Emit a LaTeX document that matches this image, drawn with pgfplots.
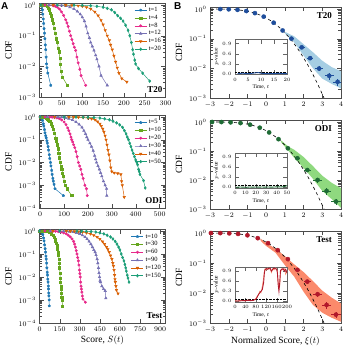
\documentclass[border=0pt]{standalone}
\usepackage{fontspec}
\setmainfont{Liberation Serif}
\setsansfont{Liberation Sans}
\usepackage{pgfplots}
\pgfplotsset{compat=1.18}

\definecolor{cA}{HTML}{1F78B4}
\definecolor{cB}{HTML}{66A61E}
\definecolor{cC}{HTML}{E7298A}
\definecolor{cD}{HTML}{7570B3}
\definecolor{cE}{HTML}{D95F02}
\definecolor{cF}{HTML}{1B9E77}
\definecolor{bBlue}{HTML}{1F4E9C}
\definecolor{bandBlue}{HTML}{A6CEE3}
\definecolor{bGreen}{HTML}{1E6B35}
\definecolor{bandGreen}{HTML}{8FD97F}
\definecolor{bRed}{HTML}{B2182B}
\definecolor{bandRed}{HTML}{FB8A6B}

\tikzset{paneltag/.style={font=\bfseries\fontsize{9}{9}\selectfont, inner sep=1pt}}

\pgfplotsset{
  panelcommon/.style={scale only axis,
    axis line style={black!70}, tick style={black!70},
    tick label style={font=\fontsize{7}{7}\selectfont},
    label style={font=\fontsize{9.5}{10}\selectfont},
    ylabel={CDF}},
  apanel/.style={panelcommon, width=126pt, ymax=1.15,
    legend style={at={(0.985,0.985)}, anchor=north east, draw=none, fill=none,
      font=\fontsize{6.5}{6.5}\selectfont, row sep=-2pt, inner sep=0.5pt},
    legend cell align=left},
  bpanel/.style={panelcommon, width=131pt, xmin=-3, xmax=4, xtick={-3,...,4},
    ymin=1e-3, ymax=1.15},
  insetaxis/.style={scale only axis, width=52pt, height=35pt, xmin=0,
    ymin=-0.02, ymax=1.02,
    axis line style={black!60}, tick style={black!60},
    ytick={0,0.3,0.6,0.9},
    yticklabel style={/pgf/number format/fixed, /pgf/number format/fixed zerofill, /pgf/number format/precision=1},
    tick label style={font=\fontsize{5}{5}\selectfont},
    label style={font=\fontsize{5.5}{5.5}\selectfont},
    xlabel={Time, $t$}, ylabel={$p$-value},
    xlabel style={yshift=3pt}, ylabel style={yshift=-3pt}},
}
\tikzset{
  sA/.style={cA, mark=pentagon*, line width=0.5pt, mark size=1.2pt},
  sB/.style={cB, mark=square*, line width=0.5pt, mark size=1.1pt},
  sC/.style={cC, mark=*, line width=0.5pt, mark size=1.2pt},
  sD/.style={cD, mark=triangle*, line width=0.5pt, mark size=1.4pt},
  sE/.style={cE, mark=triangle*, mark options={rotate=180}, line width=0.5pt, mark size=1.4pt},
  sF/.style={cF, mark=diamond*, line width=0.5pt, mark size=1.4pt}
}

\begin{document}
\begin{tikzpicture}
\useasboundingbox (0,0) rectangle (344pt,347pt);

% ---------------- A: T20
\begin{axis}[apanel, ymode=log, at={(39.5pt,250pt)}, anchor=south west, height=93.8pt,
  xmin=-3, xmax=300, xtick={0,50,...,300}, ymin=1e-3, ytick={1e-3,1e-2,1e-1,1},
  legend image code/.code={\draw[mark repeat=2,mark phase=2] plot coordinates {(0cm,0cm) (0.21cm,0cm) (0.42cm,0cm)};}]
\addplot[sA] coordinates {(0,1)(2,0.98)(3,0.9)(4,0.7)(5,0.5)(6,0.35)(7,0.25)(8,0.17)(9,0.12)(10,0.08)(11,0.05)(12,0.035)(13,0.02)(14,0.012)(15,0.009)(17,0.006)(24,0.0024)};
\addlegendentry{t=1}
\addplot[sB] coordinates {(0,1)(5,0.995)(10,0.98)(15,0.9)(18,0.8)(20,0.7)(23,0.55)(25,0.45)(28,0.33)(30,0.25)(33,0.17)(35,0.12)(38,0.08)(40,0.06)(42,0.04)(44,0.03)(46,0.018)(47,0.012)(49,0.007)(52,0.0045)(64,0.0024)};
\addlegendentry{t=4}
\addplot[sC] coordinates {(0,1)(10,0.998)(20,0.99)(30,0.95)(35,0.91)(40,0.85)(45,0.74)(50,0.6)(55,0.46)(60,0.33)(63,0.26)(66,0.2)(69,0.14)(72,0.1)(75,0.075)(78,0.055)(81,0.042)(84,0.033)(87,0.02)(90,0.013)(94,0.008)(97,0.005)(108,0.0024)};
\addlegendentry{t=8}
\addplot[sD] coordinates {(0,1)(20,0.998)(40,0.99)(50,0.97)(60,0.93)(70,0.85)(80,0.75)(88,0.62)(95,0.5)(100,0.4)(105,0.3)(109,0.2)(113,0.12)(117,0.085)(120,0.06)(124,0.045)(128,0.033)(132,0.023)(135,0.017)(140,0.01)(145,0.005)(160,0.0024)};
\addlegendentry{t=12}
\addplot[sE] coordinates {(0,1)(30,0.998)(60,0.99)(75,0.975)(90,0.95)(100,0.91)(110,0.85)(120,0.75)(130,0.6)(138,0.45)(145,0.32)(150,0.23)(155,0.15)(160,0.1)(165,0.07)(168,0.05)(172,0.035)(176,0.022)(180,0.014)(184,0.009)(188,0.006)(195,0.004)(207,0.0031)};
\addlegendentry{t=16}
\addplot[sF] coordinates {(0,1)(40,0.998)(80,0.99)(100,0.98)(120,0.95)(135,0.91)(150,0.85)(160,0.78)(170,0.7)(178,0.57)(185,0.45)(192,0.37)(198,0.3)(204,0.22)(210,0.15)(214,0.1)(218,0.06)(221,0.035)(223,0.025)(226,0.016)(228,0.012)(235,0.0085)(245,0.006)(262,0.0033)};
\addlegendentry{t=20}
\node[paneltag, anchor=south east] at (rel axis cs:0.985,0.03) {T20};
\end{axis}

% ---------------- A: ODI
\begin{axis}[apanel, ymode=log, at={(39.5pt,139pt)}, anchor=south west, height=92.4pt,
  xmin=-3, xmax=525, xtick={0,100,...,500}, ymin=1e-4, ytick={1e-4,1e-3,1e-2,1e-1,1},
  legend image code/.code={\draw[mark repeat=2,mark phase=2] plot coordinates {(0cm,0cm) (0.21cm,0cm) (0.42cm,0cm)};}]
\addplot[sA] coordinates {(0,1)(3,0.99)(5,0.95)(8,0.85)(10,0.7)(13,0.5)(15,0.4)(18,0.28)(20,0.2)(23,0.15)(25,0.12)(28,0.09)(30,0.07)(33,0.05)(35,0.035)(38,0.022)(40,0.015)(43,0.01)(45,0.007)(48,0.0045)(50,0.003)(53,0.002)(55,0.0015)(58,0.0011)(62,0.0007)(97,0.00035)};
\addlegendentry{t=5}
\addplot[sB] coordinates {(0,1)(10,0.995)(15,0.98)(20,0.95)(25,0.9)(30,0.83)(35,0.75)(40,0.63)(45,0.5)(50,0.4)(55,0.3)(60,0.2)(65,0.12)(68,0.09)(72,0.06)(75,0.04)(78,0.025)(81,0.016)(84,0.01)(87,0.007)(90,0.005)(94,0.0035)(97,0.0025)(101,0.0015)(104,0.001)(112,0.0007)(132,0.00035)};
\addlegendentry{t=10}
\addplot[sC] coordinates {(0,1)(20,0.998)(40,0.99)(50,0.975)(60,0.95)(70,0.91)(80,0.85)(90,0.74)(100,0.6)(108,0.46)(115,0.33)(120,0.25)(125,0.18)(129,0.13)(132,0.1)(136,0.08)(140,0.06)(145,0.045)(150,0.03)(155,0.018)(160,0.01)(165,0.007)(170,0.005)(175,0.003)(180,0.002)(187,0.001)(194,0.0007)(197,0.00035)};
\addlegendentry{t=20}
\addplot[sD] coordinates {(0,1)(30,0.998)(60,0.99)(75,0.98)(90,0.97)(105,0.92)(120,0.85)(135,0.74)(150,0.6)(163,0.47)(175,0.35)(183,0.25)(190,0.18)(195,0.13)(200,0.1)(208,0.07)(215,0.05)(222,0.033)(228,0.02)(232,0.014)(236,0.01)(242,0.007)(248,0.005)(253,0.0035)(258,0.0025)(265,0.0015)(272,0.001)(278,0.0007)(279,0.00035)};
\addlegendentry{t=30}
\addplot[sE] coordinates {(0,1)(60,0.998)(120,0.99)(140,0.98)(160,0.97)(180,0.94)(200,0.9)(215,0.83)(230,0.75)(240,0.63)(250,0.5)(256,0.4)(262,0.3)(267,0.22)(272,0.15)(276,0.1)(280,0.06)(284,0.035)(288,0.022)(292,0.012)(296,0.006)(300,0.004)(310,0.0035)(325,0.0033)(338,0.003)(341,0.0015)(344,0.001)(352,0.0003)};
\addlegendentry{t=40}
\addplot[sF] coordinates {(0,1)(100,0.998)(150,0.99)(180,0.98)(200,0.97)(225,0.94)(250,0.9)(270,0.83)(290,0.75)(305,0.65)(320,0.55)(333,0.45)(345,0.35)(353,0.25)(360,0.18)(365,0.13)(370,0.1)(375,0.07)(380,0.05)(385,0.035)(390,0.025)(395,0.018)(400,0.013)(405,0.01)(408,0.008)(412,0.005)(415,0.004)(418,0.003)(433,0.0016)(440,0.00076)};
\addlegendentry{t=50}
\node[paneltag, anchor=south east] at (rel axis cs:0.985,0.03) {ODI};
\end{axis}

% ---------------- A: Test
\begin{axis}[apanel, ymode=log, at={(39.5pt,24pt)}, anchor=south west, height=93.4pt,
  xmin=0, xmax=940, xtick={0,150,...,900}, ymin=1e-4, ytick={1e-4,1e-3,1e-2,1e-1,1},
  xlabel={Score, $S(t)$}, xlabel style={yshift=2pt},
  legend image code/.code={\draw[mark repeat=2,mark phase=2] plot coordinates {(0cm,0cm) (0.21cm,0cm) (0.42cm,0cm)};}]
\addplot[sA] coordinates {(0,1)(5,0.995)(10,0.98)(15,0.93)(20,0.85)(25,0.7)(30,0.5)(34,0.37)(38,0.25)(42,0.17)(45,0.12)(48,0.08)(50,0.06)(53,0.04)(55,0.025)(58,0.016)(60,0.012)(62,0.008)(64,0.006)(66,0.004)(67,0.003)(69,0.002)(70,0.0015)(72,0.001)(73,0.00055)};
\addlegendentry{t=10}
\addplot[sB] coordinates {(0,1)(20,0.998)(40,0.99)(50,0.975)(60,0.95)(70,0.91)(80,0.85)(90,0.76)(100,0.65)(108,0.55)(115,0.45)(120,0.37)(125,0.3)(130,0.23)(135,0.17)(139,0.12)(142,0.09)(145,0.06)(147,0.04)(150,0.025)(152,0.015)(155,0.009)(157,0.006)(160,0.004)(162,0.003)(164,0.002)(166,0.0013)(168,0.001)(172,0.00055)};
\addlegendentry{t=30}
\addplot[sC] coordinates {(0,1)(40,0.998)(80,0.99)(100,0.98)(120,0.97)(140,0.94)(160,0.9)(180,0.83)(200,0.75)(215,0.65)(230,0.55)(243,0.45)(255,0.35)(262,0.27)(268,0.2)(274,0.14)(280,0.1)(285,0.07)(290,0.05)(294,0.033)(298,0.02)(301,0.014)(304,0.01)(307,0.006)(310,0.004)(313,0.003)(316,0.0022)(320,0.0015)(324,0.0011)(342,0.0008)};
\addlegendentry{t=60}
\addplot[sD] coordinates {(0,1)(80,0.998)(150,0.99)(180,0.98)(200,0.97)(225,0.94)(250,0.9)(275,0.83)(300,0.75)(320,0.65)(340,0.55)(355,0.45)(370,0.35)(383,0.27)(395,0.2)(405,0.15)(415,0.12)(422,0.09)(430,0.06)(435,0.04)(440,0.025)(444,0.015)(448,0.01)(452,0.007)(455,0.006)(465,0.004)(478,0.003)(490,0.0025)(495,0.0012)};
\addlegendentry{t=90}
\addplot[sE] coordinates {(0,1)(100,0.998)(200,0.99)(230,0.98)(260,0.97)(290,0.94)(320,0.9)(350,0.83)(380,0.75)(405,0.65)(430,0.55)(450,0.45)(470,0.35)(485,0.27)(500,0.2)(510,0.16)(520,0.12)(530,0.085)(540,0.06)(547,0.04)(552,0.03)(556,0.02)(560,0.012)(563,0.008)(566,0.006)(570,0.004)(574,0.0027)(586,0.0019)};
\addlegendentry{t=120}
\addplot[sF] coordinates {(0,1)(150,0.998)(280,0.99)(315,0.98)(350,0.97)(385,0.94)(420,0.9)(450,0.83)(480,0.75)(505,0.65)(530,0.55)(548,0.45)(565,0.35)(578,0.27)(590,0.2)(600,0.15)(610,0.1)(620,0.07)(630,0.05)(637,0.035)(643,0.025)(648,0.018)(655,0.012)(660,0.009)(668,0.006)};
\addlegendentry{t=150}
\node[paneltag, anchor=south east] at (rel axis cs:0.985,0.03) {Test};
\end{axis}

% ---------------- B: T20
\begin{axis}[bpanel, ymode=log, ytick={1e-3,1e-2,1e-1,1}, at={(210pt,249pt)}, anchor=south west, height=90.8pt]
\addplot[fill=bandBlue, draw=none] coordinates {(1.0,0.17)(1.5,0.12)(2.0,0.065)(2.5,0.035)(3.0,0.018)(3.5,0.011)(4.0,0.008)(4.0,0.0021)(3.5,0.003)(3.0,0.0045)(2.5,0.01)(2.0,0.027)(1.5,0.075)(1.0,0.15)} -- cycle;
\addplot[black, dashed, line width=0.6pt] coordinates {(-3,0.99865)(-2.75,0.99702)(-2.5,0.99379)(-2.25,0.98778)(-2,0.97725)(-1.75,0.95994)(-1.5,0.93319)(-1.25,0.89435)(-1,0.84134)(-0.75,0.77337)(-0.5,0.69146)(-0.25,0.59871)(0,0.5)(0.25,0.40129)(0.5,0.30854)(0.75,0.22663)(1,0.15866)(1.25,0.10565)(1.5,0.066807)(1.75,0.040059)(2,0.02275)(2.25,0.012224)(2.5,0.0062097)(2.75,0.0029798)(3,0.0013499)(3.1,0.0009676)(3.2,0.00068714)};
\addplot[bBlue, only marks, mark=*, mark size=2.1pt,
  error bars/.cd, x dir=both, x explicit, y dir=both, y explicit relative, error mark=none,
  error bar style={bBlue, line width=0.6pt}] coordinates {
(-2.45,0.993) +- (0.1,0.01) (-2.0,0.977) +- (0.1,0.01) (-1.53,0.937) +- (0.1,0.01)
(-1.06,0.855) +- (0.1,0.01) (-0.6,0.726) +- (0.1,0.02) (-0.13,0.552) +- (0.1,0.02)
(0.4,0.345) +- (0.1,0.03) (0.88,0.189) +- (0.1,0.05) (1.35,0.1) +- (0.12,0.08)
(1.9,0.051) +- (0.15,0.12) (2.35,0.022) +- (0.18,0.15) (2.83,0.0098) +- (0.22,0.2)
(3.37,0.0056) +- (0.25,0.25) (3.82,0.0035) +- (0.25,0.25)};
\node[paneltag, anchor=north east] at (rel axis cs:0.94,0.955) {T20};
\end{axis}
\begin{axis}[insetaxis, axis background/.style={fill=white}, at={(235pt,272.5pt)}, anchor=south west, xmax=20, xtick={0,5,...,20}]
\addplot[black, densely dotted, thin] coordinates {(0,0.05)(20,0.05)};
\addplot[bBlue, line width=0.9pt] coordinates {(1,0.005)(2,0.01)(3,0.02)(4,0.01)(5,0.005)(6,0.01)(7,0.02)(8,0.03)(9,0.035)(10,0.02)(11,0.01)(12,0.01)(13,0.005)(14,0.01)(15,0.005)(16,0.01)(17,0.015)(18,0.01)(19,0.005)(20,0.01)};
\end{axis}

% ---------------- B: ODI
\begin{axis}[bpanel, ymode=log, ytick={1e-3,1e-2,1e-1,1}, at={(210pt,138pt)}, anchor=south west, height=88.8pt]
\addplot[fill=bandGreen, draw=none] coordinates {(0.8,0.23)(1.2,0.14)(1.5,0.11)(2.0,0.062)(2.5,0.03)(3.0,0.014)(3.5,0.008)(4.0,0.0052)(4.0,0.0011)(3.5,0.0022)(3.0,0.0042)(2.5,0.011)(2.0,0.026)(1.5,0.058)(1.2,0.1)(0.8,0.2)} -- cycle;
\addplot[black, dashed, line width=0.6pt] coordinates {(-3,0.99865)(-2.75,0.99702)(-2.5,0.99379)(-2.25,0.98778)(-2,0.97725)(-1.75,0.95994)(-1.5,0.93319)(-1.25,0.89435)(-1,0.84134)(-0.75,0.77337)(-0.5,0.69146)(-0.25,0.59871)(0,0.5)(0.25,0.40129)(0.5,0.30854)(0.75,0.22663)(1,0.15866)(1.25,0.10565)(1.5,0.066807)(1.75,0.040059)(2,0.02275)(2.25,0.012224)(2.5,0.0062097)(2.75,0.0029798)(3,0.0013499)(3.1,0.0009676)(3.2,0.00068714)};
\addplot[bGreen, only marks, mark=*, mark size=2.1pt,
  error bars/.cd, x dir=both, x explicit, y dir=both, y explicit relative, error mark=none,
  error bar style={bGreen, line width=0.6pt}] coordinates {
(-2.89,0.998) +- (0.1,0.01) (-2.39,0.992) +- (0.1,0.01) (-1.9,0.971) +- (0.1,0.01)
(-1.37,0.915) +- (0.1,0.01) (-0.86,0.805) +- (0.1,0.02) (-0.34,0.633) +- (0.1,0.02)
(0.16,0.436) +- (0.1,0.03) (0.66,0.255) +- (0.1,0.05) (1.16,0.124) +- (0.12,0.08)
(1.67,0.056) +- (0.15,0.12) (2.2,0.022) +- (0.18,0.15) (2.75,0.010) +- (0.22,0.2)
(3.23,0.0042) +- (0.25,0.25) (3.73,0.0018) +- (0.25,0.25)};
\node[paneltag, anchor=north east] at (rel axis cs:0.94,0.955) {ODI};
\end{axis}
\begin{axis}[insetaxis, axis background/.style={fill=white}, at={(235pt,159pt)}, anchor=south west, xmax=50, xtick={0,10,...,50}]
\addplot[black, densely dotted, thin] coordinates {(0,0.05)(50,0.05)};
\addplot[bGreen, line width=0.9pt] coordinates {(1,0)(3,0.005)(5,0.01)(8,0.005)(11,0)(14,0.01)(17,0.005)(20,0.01)(23,0.005)(26,0.01)(29,0.005)(32,0.01)(35,0.005)(38,0.01)(41,0.015)(44,0.01)(47,0.02)(49,0.04)(50,0.05)};
\end{axis}

% ---------------- B: Test
\begin{axis}[bpanel, ymode=log, ytick={1e-3,1e-2,1e-1,1}, at={(210pt,24pt)}, anchor=south west, height=91.8pt,
  xlabel={Normalized Score, $\xi(t)$}, xlabel style={yshift=2pt}]
\addplot[fill=bandRed, draw=none] coordinates {(-0.3,0.65)(0,0.47)(0.5,0.3)(1.0,0.17)(1.5,0.09)(2.0,0.05)(2.5,0.025)(3.0,0.012)(3.5,0.007)(4.0,0.0045)(4.0,0.0011)(3.5,0.0015)(3.0,0.0022)(2.5,0.004)(2.0,0.011)(1.5,0.035)(1.0,0.085)(0.5,0.22)(0,0.37)(-0.3,0.55)} -- cycle;
\addplot[black, dashed, line width=0.6pt] coordinates {(-3,0.99865)(-2.75,0.99702)(-2.5,0.99379)(-2.25,0.98778)(-2,0.97725)(-1.75,0.95994)(-1.5,0.93319)(-1.25,0.89435)(-1,0.84134)(-0.75,0.77337)(-0.5,0.69146)(-0.25,0.59871)(0,0.5)(0.25,0.40129)(0.5,0.30854)(0.75,0.22663)(1,0.15866)(1.25,0.10565)(1.5,0.066807)(1.75,0.040059)(2,0.02275)(2.25,0.012224)(2.5,0.0062097)(2.75,0.0029798)(3,0.0013499)(3.1,0.0009676)(3.2,0.00068714)};
\addplot[bRed, only marks, mark=*, mark size=2.1pt,
  error bars/.cd, x dir=both, x explicit, y dir=both, y explicit relative, error mark=none,
  error bar style={bRed, line width=0.6pt}] coordinates {
(-2.95,0.998) +- (0.1,0.01) (-2.45,0.993) +- (0.1,0.01) (-1.97,0.976) +- (0.1,0.01)
(-1.5,0.933) +- (0.1,0.01) (-1.0,0.841) +- (0.1,0.02) (-0.45,0.674) +- (0.1,0.02)
(0.1,0.46) +- (0.1,0.03) (0.62,0.268) +- (0.1,0.05) (1.16,0.135) +- (0.12,0.08)
(1.67,0.059) +- (0.15,0.12) (2.2,0.024) +- (0.18,0.15) (2.75,0.0091) +- (0.22,0.2)
(3.23,0.004) +- (0.25,0.25) (3.73,0.0019) +- (0.25,0.25)};
\node[paneltag, anchor=north east] at (rel axis cs:0.94,0.955) {Test};
\end{axis}
\begin{axis}[insetaxis, axis background/.style={fill=white}, at={(235pt,45pt)}, anchor=south west, xmax=200, xtick={0,40,...,200}]
\addplot[black, densely dotted, thin] coordinates {(0,0.05)(200,0.05)};
\addplot[bandRed, line width=0.6pt] coordinates {(0,0.02)(10,0.01)(20,0.02)(30,0.03)(40,0.01)(50,0.04)(60,0.03)(70,0.02)(80,0.08)(85,0.15)(90,0.18)(95,0.3)(100,0.25)(105,0.45)(110,0.7)(113,0.9)(116,0.97)(120,0.93)(125,0.99)(130,0.95)(135,0.97)(140,0.85)(145,0.97)(150,0.93)(155,0.99)(160,0.94)(163,0.9)(166,0.6)(169,0.4)(172,0.45)(175,0.85)(180,0.97)(185,0.93)(190,0.97)(195,0.8)(200,0.9)};
\addplot[bRed, line width=0.9pt] coordinates {(0,0.01)(10,0.01)(20,0.015)(30,0.02)(40,0.02)(50,0.03)(60,0.02)(70,0.03)(80,0.06)(85,0.12)(90,0.2)(95,0.25)(100,0.3)(105,0.35)(110,0.55)(113,0.85)(116,0.95)(120,0.97)(125,0.95)(130,0.98)(135,0.99)(140,0.9)(145,0.95)(150,0.99)(155,0.97)(160,0.96)(163,0.85)(166,0.5)(169,0.3)(172,0.55)(175,0.92)(180,0.95)(185,0.97)(190,0.9)(195,0.95)(200,0.85)};
\end{axis}

\node[font=\sffamily\bfseries\fontsize{10}{10}\selectfont, anchor=north west, inner sep=0pt] at (1pt,345pt) {A};
\node[font=\sffamily\bfseries\fontsize{10}{10}\selectfont, anchor=north west, inner sep=0pt] at (174pt,345pt) {B};
\end{tikzpicture}
\end{document}
